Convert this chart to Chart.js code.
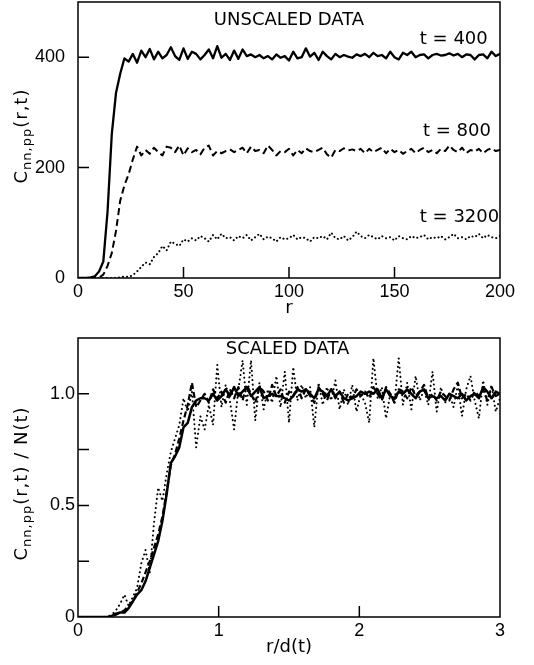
<!DOCTYPE html>
<html>
<head>
<meta charset="utf-8">
<script src="https://cdn.jsdelivr.net/npm/chart.js@4.4.1/dist/chart.umd.min.js"></script>
<style>
  html, body { margin: 0; padding: 0; background: #fff; }
  #wrap { position: relative; width: 534px; height: 665px; }
  canvas { position: absolute; left: 0; }
  #top { top: 0; }
  #bot { top: 330px; }
</style>
</head>
<body>
<div id="wrap">
  <canvas id="top" width="534" height="330"></canvas>
  <canvas id="bot" width="534" height="335"></canvas>
</div>
<script>
// Panel superior: C(r,t) sin escalar, r de 0 a 200
const rTop = [0,2,4,6,8,10,12,14,16,18,20,22,24,26,28,30,32,34,36,38,40,42,44,46,48,50,52,54,56,58,60,62,64,66,68,70,72,74,76,78,80,82,84,86,88,90,92,94,96,98,100,102,104,106,108,110,112,114,116,118,120,122,124,126,128,130,132,134,136,138,140,142,144,146,148,150,152,154,156,158,160,162,164,166,168,170,172,174,176,178,180,182,184,186,188,190,192,194,196,198,200];

const t400 = [
  0,0,0,1,3,12,30,120,260,335,
  370,398,392,406,390,412,400,415,396,410,
  398,404,418,402,395,416,397,410,406,396,
  404,414,398,420,399,406,395,412,397,414,
  402,405,400,404,398,402,396,405,399,402,
  394,410,398,400,416,401,408,395,410,402,
  396,406,400,404,401,399,405,402,406,400,
  408,402,404,398,410,400,396,408,404,410,
  400,404,405,398,404,406,403,404,407,403,
  406,400,405,404,396,404,405,398,410,402,
  406];

const t800 = [
  0,0,0,0,0,1,6,22,45,85,
  140,168,188,215,238,222,232,225,236,228,
  222,238,236,228,240,222,235,228,232,224,
  236,240,222,230,226,230,233,228,232,236,
  226,238,230,232,226,240,232,222,230,228,
  234,222,232,226,235,230,228,232,236,224,
  218,232,230,235,231,233,230,234,226,234,
  228,232,236,226,234,228,232,225,230,234,
  226,232,236,228,232,226,234,230,240,232,
  228,236,226,232,229,234,226,232,235,230,
  232];

const t3200 = [
  0,0,0,0,0,0,0,0,0,0,
  1,3,2,5,12,20,28,25,38,45,
  58,50,66,62,58,70,66,72,68,76,
  72,66,78,70,80,72,74,68,76,72,
  78,68,74,80,70,75,72,66,74,70,
  72,78,70,74,72,66,74,72,76,70,
  82,72,70,76,68,74,84,76,72,78,
  74,70,76,72,74,68,76,72,70,76,
  72,74,78,70,74,72,76,70,74,80,
  72,74,70,76,74,80,72,78,74,72,
  76];

// Panel inferior: datos escalados, r/d(t) de 0 a 3
const xBot = [0,0.03,0.06,0.09,0.12,0.15,0.18,0.21,0.24,0.27,0.3,0.33,0.36,0.39,0.42,0.45,0.48,0.51,0.54,0.57,0.6,0.63,0.66,0.69,0.72,0.75,0.78,0.81,0.84,0.87,0.9,0.93,0.96,0.99,1.02,1.05,1.08,1.11,1.14,1.17,1.2,1.23,1.26,1.29,1.32,1.35,1.38,1.41,1.44,1.47,1.5,1.53,1.56,1.59,1.62,1.65,1.68,1.71,1.74,1.77,1.8,1.83,1.86,1.89,1.92,1.95,1.98,2.01,2.04,2.07,2.1,2.13,2.16,2.19,2.22,2.25,2.28,2.31,2.34,2.37,2.4,2.43,2.46,2.49,2.52,2.55,2.58,2.61,2.64,2.67,2.7,2.73,2.76,2.79,2.82,2.85,2.88,2.91,2.94,2.97,3];

const s400 = [
  0,0,0,0,0,0,0,0,0.005,0.015,
  0.02,0.02,0.04,0.07,0.10,0.12,0.16,0.22,0.28,0.34,
  0.43,0.55,0.69,0.72,0.76,0.85,0.87,0.94,0.97,0.98,
  0.98,0.97,1.00,0.97,0.99,1.02,0.99,1.03,0.99,1.01,
  1.03,0.99,1.01,1.03,0.98,0.99,1.00,0.99,0.99,0.98,
  0.97,0.99,1.02,1.01,1.02,1.00,0.98,1.02,1.01,0.99,
  1.02,0.99,1.01,0.98,0.97,0.98,0.99,1.01,1.00,1.01,
  1.00,1.02,0.98,1.02,0.99,0.98,1.01,1.00,1.02,1.00,
  0.98,1.01,1.02,0.98,0.99,0.98,0.99,0.97,1.00,0.99,
  0.98,1.00,0.97,0.99,1.00,0.98,1.03,1.01,0.98,1.01,
  1.00];

const s800 = [
  0,0,0,0,0,0,0,0,0.004,0.01,
  0.02,0.03,0.05,0.07,0.11,0.15,0.20,0.25,0.31,0.37,
  0.45,0.56,0.68,0.73,0.80,0.88,0.95,1.05,0.94,0.97,
  1.00,0.96,1.02,0.98,1.01,0.96,1.02,0.98,1.03,0.97,
  1.04,1.00,0.96,1.03,1.01,0.97,1.04,0.99,1.02,0.96,
  1.01,0.99,1.03,0.98,1.02,0.99,0.96,1.03,1.00,0.97,
  1.02,0.98,1.01,0.96,1.00,0.98,1.02,0.99,1.01,0.98,
  1.03,1.00,0.97,1.03,1.00,0.96,1.02,1.01,0.98,1.03,
  0.99,1.01,1.04,0.98,1.00,0.97,1.01,0.99,0.97,1.02,
  1.05,0.98,1.00,0.97,1.01,0.99,1.02,0.97,1.03,0.99,
  1.00];

const s3200 = [
  0,0,0,0,0,0,0,0,0.01,0.03,
  0.06,0.10,0.05,0.09,0.13,0.24,0.30,0.20,0.42,0.58,
  0.52,0.64,0.74,0.80,0.86,0.98,0.92,1.01,0.76,0.90,
  0.84,0.95,0.86,1.13,0.94,1.04,0.97,0.84,1.02,1.15,
  0.95,1.15,0.88,1.05,0.93,1.02,0.96,1.08,0.94,1.10,
  0.87,1.12,0.97,1.04,0.98,1.03,0.85,1.05,0.95,1.03,
  0.97,1.06,0.93,1.02,0.95,1.04,0.92,1.00,0.96,0.87,
  1.16,0.98,1.03,0.89,1.00,0.96,1.16,0.95,1.05,0.93,
  1.08,0.97,1.02,0.95,1.10,0.92,1.03,0.96,1.00,0.94,
  1.04,0.90,1.02,1.08,0.97,0.89,1.06,0.95,1.04,0.92,
  0.98];

// Marcas y etiquetas
const topXLabels = [0, 50, 100, 150, 200];
const topYLabels = [0, 200, 400];
const botXLabels = [0, 1, 2, 3];
const botYLabels = [0, 0.5, 1.0];

const FONT = '"DejaVu Sans"';
const TICK_FONT = { family: 'Liberation Sans', size: 18 };
Chart.defaults.font.family = 'DejaVu Sans';
Chart.defaults.color = '#000';

// Dibuja marco, marcas interiores, rótulos y título del eje y
const marcoPlugin = (cfg) => ({
    id: 'marco',
    afterDraw(chart) {
        const { ctx, chartArea: a, scales: { x, y } } = chart;
        ctx.save();
        ctx.strokeStyle = '#000';
        ctx.lineWidth = 1.5;
        ctx.strokeRect(a.left, a.top, a.right - a.left, a.bottom - a.top);
        ctx.beginPath();
        cfg.xInner.forEach(v => {
            const px = x.getPixelForValue(v);
            ctx.moveTo(px, a.bottom);
            ctx.lineTo(px, a.bottom - 11);
        });
        cfg.yInner.forEach(v => {
            const py = y.getPixelForValue(v);
            ctx.moveTo(a.left, py);
            ctx.lineTo(a.left + 11, py);
        });
        ctx.stroke();

        ctx.fillStyle = '#000';
        ctx.font = '18px ' + FONT;
        ctx.textBaseline = 'middle';
        cfg.notes.forEach(n => {
            ctx.textAlign = n.align || 'left';
            ctx.fillText(n.text, x.getPixelForValue(n.x), y.getPixelForValue(n.y));
        });

        // título vertical con subíndice
        ctx.letterSpacing = '1px';
        let total = 0;
        cfg.yTitle.forEach(p => {
            ctx.font = p.size + 'px ' + FONT;
            p.w = ctx.measureText(p.t).width;
            total += p.w;
        });
        const yc = (a.top + a.bottom) / 2 + cfg.yTitleShift;
        ctx.translate(27, yc + total / 2);
        ctx.rotate(-Math.PI / 2);
        ctx.textAlign = 'left';
        ctx.textBaseline = 'alphabetic';
        let cx = 0;
        cfg.yTitle.forEach(p => {
            ctx.font = p.size + 'px ' + FONT;
            ctx.fillText(p.t, cx, p.dy);
            cx += p.w;
        });
        ctx.restore();
    }
});

const crearPanel = (id, cfg) => {
    const datasets = cfg.series.map(s => ({
        data: s.y.map((v, k) => ({ x: cfg.x[k], y: v })),
        borderColor: '#000',
        borderWidth: s.width,
        borderDash: s.dash,
        borderCapStyle: s.cap,
        borderJoinStyle: 'round',
        pointRadius: 0,
        tension: 0,
        fill: false
    }));

    return new Chart(document.getElementById(id), {
        type: 'line',
        data: { datasets },
        options: {
            responsive: false,
            animation: false,
            devicePixelRatio: 1,
            layout: { padding: { left: 0, right: 34, top: cfg.padTop, bottom: 0 } },
            plugins: { legend: { display: false }, tooltip: { enabled: false } },
            scales: {
                x: {
                    type: 'linear',
                    min: cfg.xMin,
                    max: cfg.xMax,
                    grid: { display: false, drawTicks: false },
                    border: { display: false },
                    afterBuildTicks: s => { s.ticks = cfg.xLabels.map(v => ({ value: v })); },
                    afterFit: s => { s.height = cfg.xAxisH; s.paddingLeft = 0; s.paddingRight = 0; },
                    ticks: { font: TICK_FONT, padding: 3, maxRotation: 0, autoSkip: false, callback: v => String(v) },
                    title: { display: true, text: cfg.xTitle, font: { size: 18 }, padding: { top: 0, bottom: cfg.xTitlePad } }
                },
                y: {
                    min: 0,
                    max: cfg.yMax,
                    grid: { display: false, drawTicks: false },
                    border: { display: false },
                    afterBuildTicks: s => { s.ticks = cfg.yLabels.map(v => ({ value: v })); },
                    afterFit: s => { s.width = 78; s.paddingTop = 0; s.paddingBottom = 0; },
                    ticks: { font: TICK_FONT, padding: cfg.yPad, autoSkip: false, callback: cfg.yFmt }
                }
            }
        },
        plugins: [marcoPlugin(cfg)]
    });
};

crearPanel('top', {
    x: rTop,
    series: [
        { y: t400, width: 2.3, dash: [], cap: 'butt' },
        { y: t800, width: 2, dash: [7, 4], cap: 'butt' },
        { y: t3200, width: 2, dash: [0.1, 4], cap: 'round' }
    ],
    xMin: 0, xMax: 200, yMax: 500,
    xLabels: topXLabels, yLabels: topYLabels,
    xInner: [50, 100, 150], yInner: [200, 400],
    yFmt: v => String(v), yPad: 13,
    padTop: 2, xAxisH: 52, xTitle: 'r', xTitlePad: 11,
    notes: [
        { text: 'UNSCALED DATA', x: 100, y: 466, align: 'center' },
        { text: 't = 400', x: 162, y: 433 },
        { text: 't = 800', x: 163.5, y: 266 },
        { text: 't = 3200', x: 162, y: 110 }
    ],
    yTitle: [
        { t: 'C', size: 18, dy: 0 },
        { t: 'nn,pp', size: 13, dy: 4 },
        { t: '(r,t)', size: 18, dy: 0 }
    ],
    yTitleShift: -4
});

crearPanel('bot', {
    x: xBot,
    series: [
        { y: s400, width: 2.5, dash: [], cap: 'butt' },
        { y: s800, width: 2.2, dash: [6, 3], cap: 'butt' },
        { y: s3200, width: 2, dash: [0.1, 4.5], cap: 'round' }
    ],
    xMin: 0, xMax: 3, yMax: 1.25,
    xLabels: botXLabels, yLabels: botYLabels,
    xInner: [1, 2], yInner: [0.25, 0.5, 0.75, 1.0],
    yFmt: v => (v === 0 ? '0' : v.toFixed(1)), yPad: 3,
    padTop: 8, xAxisH: 48, xTitle: 'r/d(t)', xTitlePad: 7,
    notes: [
        { text: 'SCALED DATA', x: 1.49, y: 1.198, align: 'center' }
    ],
    yTitle: [
        { t: 'C', size: 18, dy: 0 },
        { t: 'nn,pp', size: 13, dy: 4 },
        { t: '(r,t) / N(t)', size: 18, dy: 0 }
    ],
    yTitleShift: 6
});
</script>
</body>
</html>
